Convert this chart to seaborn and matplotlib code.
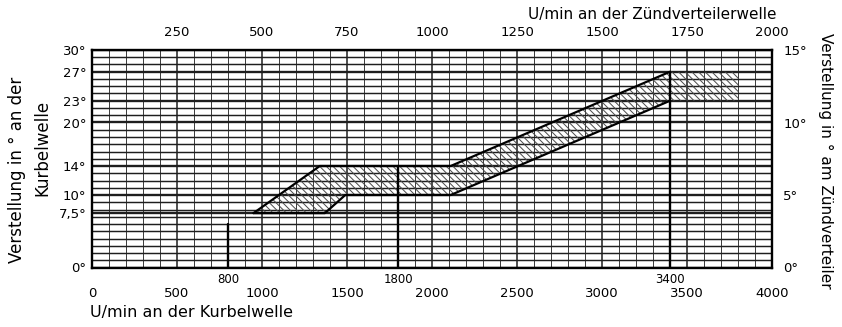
import numpy as np
import matplotlib
matplotlib.use("Agg")
import matplotlib.pyplot as plt
import seaborn as sns

# ---- data ----
rpm_upper = [950, 1340, 2110, 3400]
adv_upper = [7.5, 14, 14, 27]
rpm_lower = [950, 1370, 1490, 2110, 3400]
adv_lower = [7.5, 7.5, 10, 10, 23]
rpm_plateau = [3400, 3800]
adv_plateau_top = [27, 27]
adv_plateau_bottom = [23, 23]

marker_rpm = [800, 1800, 3400]
marker_top = [6, 14, 27]
marker_labels = ["800", "1800", "3400"]

crank_rpm_ticks = [0, 500, 1000, 1500, 2000, 2500, 3000, 3500, 4000]
crank_rpm_labels = ["0", "500", "1000", "1500", "2000", "2500", "3000", "3500", "4000"]
dist_rpm_ticks = [250, 500, 750, 1000, 1250, 1500, 1750, 2000]
dist_rpm_labels = ["250", "500", "750", "1000", "1250", "1500", "1750", "2000"]
crank_deg_ticks = [0, 7.5, 10, 14, 20, 23, 27, 30]
crank_deg_labels = ["0°", "7,5°", "10°", "14°", "20°", "23°", "27°", "30°"]
dist_deg_ticks = [0, 5, 10, 15]
dist_deg_labels = ["0°", "5°", "10°", "15°"]

sns.set_style("white")
plt.rcParams["font.family"] = ["DejaVu Sans"]
plt.rcParams["text.color"] = "black"
plt.rcParams["xtick.color"] = "black"
plt.rcParams["ytick.color"] = "black"
plt.rcParams["hatch.color"] = "#4a4a4a"
plt.rcParams["hatch.linewidth"] = 0.7

W, H = 842, 327
fig = plt.figure(figsize=(W / 100, H / 100), dpi=100)
ax = fig.add_axes([92 / W, 1 - 267.5 / H, (772 - 92) / W, (267.5 - 50) / H])
ax.set_xlim(0, 4000)
ax.set_ylim(0, 30)

# grid
for r in range(0, 4001, 100):
    if r % 500 == 0:
        ax.axvline(r, color="#1e1e1e", lw=1.1, zorder=1)
    else:
        ax.axvline(r, color="#3a3a3a", lw=0.7, zorder=1)
hlines = list(range(0, 31)) + [7.5]
for d in hlines:
    lw = 1.7 if d in crank_deg_ticks else 1.05
    ax.axhline(d, color="#1e1e1e", lw=lw, zorder=1)

# hatched band
poly_x = rpm_upper + [rpm_plateau[1], rpm_plateau[1]] + rpm_lower[::-1]
poly_y = adv_upper + [adv_plateau_top[1], adv_plateau_bottom[1]] + adv_lower[::-1]
ax.fill(poly_x, poly_y, facecolor="none", edgecolor="#4a4a4a", lw=0,
        hatch="\\\\\\\\\\", zorder=2)

sns.lineplot(x=rpm_upper, y=adv_upper, ax=ax, color="black", lw=1.6,
             sort=False, estimator=None, zorder=3)
sns.lineplot(x=rpm_lower, y=adv_lower, ax=ax, color="black", lw=1.6,
             sort=False, estimator=None, zorder=3)

# marker verticals
for r, t, lab in zip(marker_rpm, marker_top, marker_labels):
    ax.plot([r, r], [0, t], color="black", lw=1.7, zorder=3)
    ax.annotate(lab, xy=(r, 0), xycoords=("data", "axes fraction"),
                xytext=(0, -4), textcoords="offset points",
                ha="center", va="top", fontsize=8.5)

for s in ax.spines.values():
    s.set_color("black")
    s.set_linewidth(1.7)
    s.set_zorder(4)

ax.set_xticks(crank_rpm_ticks)
ax.set_xticklabels(crank_rpm_labels, fontsize=9.5)
ax.set_yticks(crank_deg_ticks)
ax.set_yticklabels(crank_deg_labels, fontsize=9.5)
ax.tick_params(axis="x", length=0, pad=14)
ax.tick_params(axis="y", length=0, pad=4)

top = ax.secondary_xaxis("top", functions=(lambda x: x / 2, lambda x: x * 2))
top.set_xticks(dist_rpm_ticks)
top.set_xticklabels(dist_rpm_labels, fontsize=9.5)
top.tick_params(length=0, pad=8)
top.spines["top"].set_visible(False)

right = ax.secondary_yaxis("right", functions=(lambda y: y / 2, lambda y: y * 2))
right.set_yticks(dist_deg_ticks)
right.set_yticklabels(dist_deg_labels, fontsize=9.5)
right.tick_params(length=0, pad=8)
right.spines["right"].set_visible(False)

# axis titles
fig.text(90 / W, 1 - 312 / H, "U/min an der Kurbelwelle", ha="left", va="center", fontsize=11.5)
fig.text(528 / W, 1 - 14 / H, "U/min an der Zündverteilerwelle", ha="left", va="center", fontsize=11)
fig.text(17 / W, 1 - 170 / H, "Verstellung in ° an der", ha="center", va="center",
         rotation=90, fontsize=12)
fig.text(42 / W, 1 - 148 / H, "Kurbelwelle", ha="center", va="center",
         rotation=90, fontsize=12)
fig.text(826 / W, 1 - 161 / H, "Verstellung in ° am Zündverteiler", ha="center", va="center",
         rotation=270, fontsize=11)

fig.savefig("out.png", dpi=100, facecolor="white")
